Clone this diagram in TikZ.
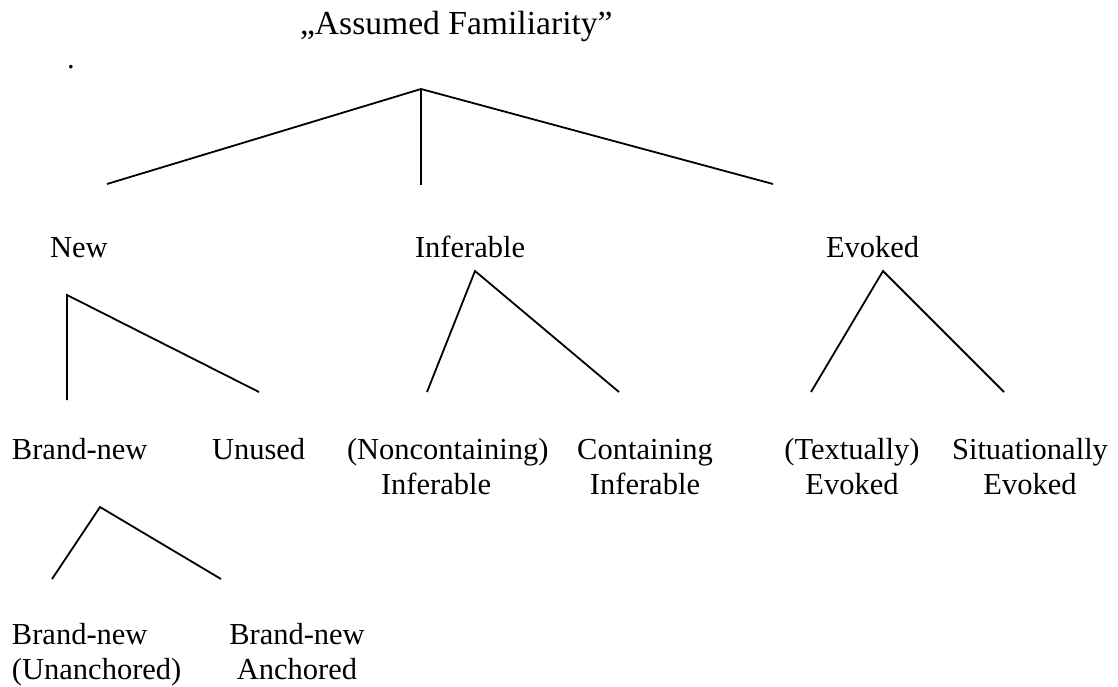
\documentclass[tikz,border=0pt]{standalone}
\usepackage{fontspec}
\setmainfont{Liberation Serif}
\begin{document}
\begin{tikzpicture}[x=1pt,y=-1pt,
  lbl/.style={inner sep=0pt,outer sep=0pt,anchor=base west,font=\fontsize{30.5}{35}\selectfont},
  lblc/.style={inner sep=0pt,outer sep=0pt,anchor=base,align=center,font=\fontsize{30.5}{35}\selectfont},
  lbll/.style={inner sep=0pt,outer sep=0pt,anchor=base west,align=left,font=\fontsize{30.5}{35}\selectfont},
  branch/.style={draw=black,line width=1.8pt}]
\useasboundingbox (0,0) rectangle (1118,686);
% texts
\node[lbl,font=\fontsize{33.6}{38}\selectfont] (title) at (300,34) {„Assumed Familiarity”};
\node[lbl] (dot) at (67,68) {.};
\node[lbl] (new) at (50,257) {New};
\node[lbl] (inf) at (415,257) {Inferable};
\node[lbl] (evo) at (826,257) {Evoked};
\node[lbl] (bn) at (12,459) {Brand-new};
\node[lbl] (unused) at (212,459) {Unused};
\node[lbll] (ncinf) at (347,494) {(Noncontaining)\\\hspace*{34pt}Inferable};
\node[lblc] (cinf) at (645,494) {Containing\\Inferable};
\node[lblc] (tev) at (852,494) {(Textually)\\Evoked};
\node[lblc] (sev) at (1030,494) {Situationally\\Evoked};
\node[lbll] (bnu) at (12,679) {Brand-new\\(Unanchored)};
\node[lblc] (bna) at (297,679) {Brand-new\\Anchored};
% branch points
\coordinate (t0) at (421,89);
\coordinate (t1) at (107,184);
\coordinate (t2) at (421,185);
\coordinate (t3) at (773,184);
\coordinate (n0) at (67,295);
\coordinate (n1) at (67,400);
\coordinate (n2) at (259,392);
\coordinate (i0) at (475,271);
\coordinate (i1) at (427,392);
\coordinate (i2) at (619,392);
\coordinate (e0) at (883,271);
\coordinate (e1) at (811,392);
\coordinate (e2) at (1004,392);
\coordinate (b0) at (100,507);
\coordinate (b1) at (52,579);
\coordinate (b2) at (221,579);
\draw[branch] (t1) -- (t0) -- (t3);
\draw[branch] (t0) -- (t2);
\draw[branch] (n1) -- (n0) -- (n2);
\draw[branch] (i1) -- (i0) -- (i2);
\draw[branch] (e1) -- (e0) -- (e2);
\draw[branch] (b1) -- (b0) -- (b2);
\end{tikzpicture}
\end{document}
